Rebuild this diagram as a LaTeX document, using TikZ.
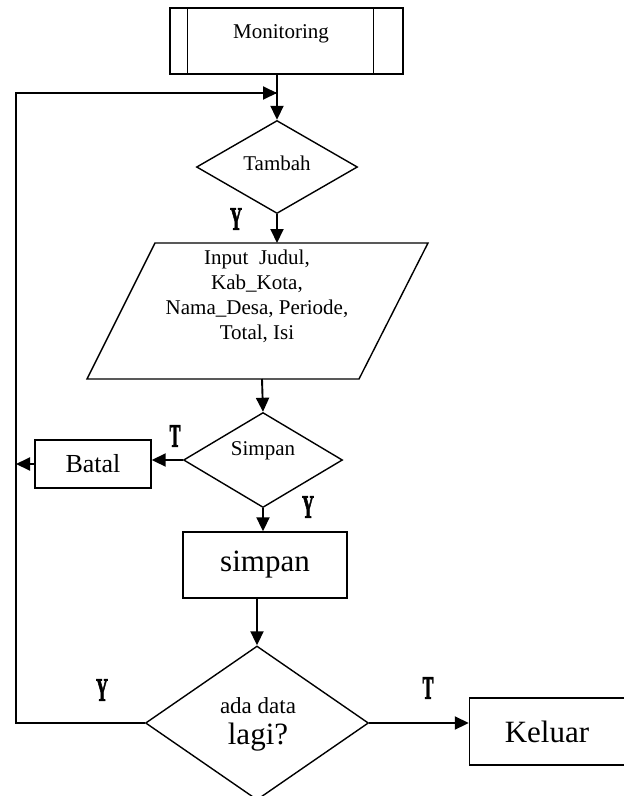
\documentclass[tikz,border=0pt]{standalone}
\usepackage{fontspec}
\setmainfont{Liberation Serif}
\newfontfamily\ytfont{Liberation Serif}[FakeBold=2.5]
\usetikzlibrary{shapes.geometric,arrows.meta}
\newcommand\ytlabel[1]{\scalebox{0.5}[1]{\ytfont\fontsize{33}{33}\selectfont\bfseries #1}}
\begin{document}
\begin{tikzpicture}[x=1pt,y=-1pt,
  shapeline/.style={draw=black,line width=1.4pt},
  conn/.style={line width=1.9pt,-{Triangle[length=14pt,width=13pt]}},
  plain/.style={line width=1.7pt},
  dec/.style={shapeline,diamond,inner sep=0pt,text width=10pt},
  boxnode/.style={shapeline,rectangle,inner sep=0pt},
  small/.style={font=\fontsize{21}{25}\selectfont},
  big/.style={font=\fontsize{31}{34}\selectfont},
  lbl/.style={inner sep=0pt}]
\useasboundingbox (0,0) rectangle (624,796);
% Monitoring (predefined process)
\node[boxnode,minimum width=233,minimum height=66] (mon) at (286.5,41) {};
\draw[shapeline] ([xshift=18pt]mon.north west) -- ([xshift=18pt]mon.south west);
\draw[shapeline] ([xshift=-30pt]mon.north east) -- ([xshift=-30pt]mon.south east);
\node[small,inner sep=0pt] (montext) at (281,34) {Monitoring};
% Tambah
\node[dec,minimum width=161,minimum height=93] (tambah) at (277,167) {};
\node[small,inner sep=0pt] (tambahtext) at (277,163) {Tambah};
% Input parallelogram
\coordinate (pA) at (155,243);
\coordinate (pB) at (428,243);
\coordinate (pC) at (359,379);
\coordinate (pD) at (87,379);
\draw[shapeline,line join=miter] (pA) -- (pB) -- (pC) -- (pD) -- cycle;
\node[small,align=center,inner sep=0pt] (input) at (257,296)
  {Input\ \ Judul,\\Kab\_Kota,\\Nama\_Desa, Periode,\\Total, Isi};
\coordinate (inTop) at (277,243);
\coordinate (inBot) at (262,379);
% Simpan decision
\node[dec,minimum width=159,minimum height=95] (simpan) at (263,460) {};
\node[small,inner sep=0pt] (simpantext) at (263,451) {Simpan};
% Batal
\node[boxnode,minimum width=116,minimum height=48,font=\fontsize{26}{26}\selectfont] (batal) at (93,464) {Batal};
% simpan box
\node[boxnode,minimum width=164,minimum height=66,big] (sbox) at (265,565) {simpan};
% ada data lagi?
\node[dec,minimum width=223,minimum height=154] (ada) at (257,723) {};
\node[inner sep=0pt,font=\fontsize{23}{23}\selectfont] (adatext) at (258,706) {ada data};
\node[inner sep=0pt,font=\fontsize{31}{31}\selectfont] (lagitext) at (258,737) {lagi?};
% Keluar
\node[boxnode,minimum width=155,minimum height=67,big] (keluar) at (547,731.5) {Keluar};
% loop coordinates
\coordinate (loopBL) at (16,723);
\coordinate (loopTL) at (16,93);
\coordinate (join) at (277,93);
\coordinate (batalJoin) at (16,464);
% connectors
\draw[conn] (tambah.north |- mon.south) -- (tambah.north);
\draw[plain] (ada.west) -- (loopBL) -- (loopTL) -- (join);
\draw[conn] (loopTL) -- (join);
\draw[conn] (tambah.south) -- (inTop);
\draw[conn] (inBot) -- (simpan.north);
\draw[conn] (simpan.west) -- (batal.east |- simpan.west);
\draw[conn] (batal.west) -- (batalJoin);
\draw[conn] (simpan.south) -- (simpan.south |- sbox.north);
\draw[conn] (ada.north |- sbox.south) -- (ada.north);
\draw[conn] (ada.east) -- (keluar.west |- ada.east);
% labels
\node[lbl] (y1) at (236,219) {\ytlabel{Y}};
\node[lbl] (t1) at (175,436) {\ytlabel{T}};
\node[lbl] (y2) at (308,507) {\ytlabel{Y}};
\node[lbl] (y3) at (102,690) {\ytlabel{Y}};
\node[lbl] (t2) at (428,688) {\ytlabel{T}};
\end{tikzpicture}
\end{document}
